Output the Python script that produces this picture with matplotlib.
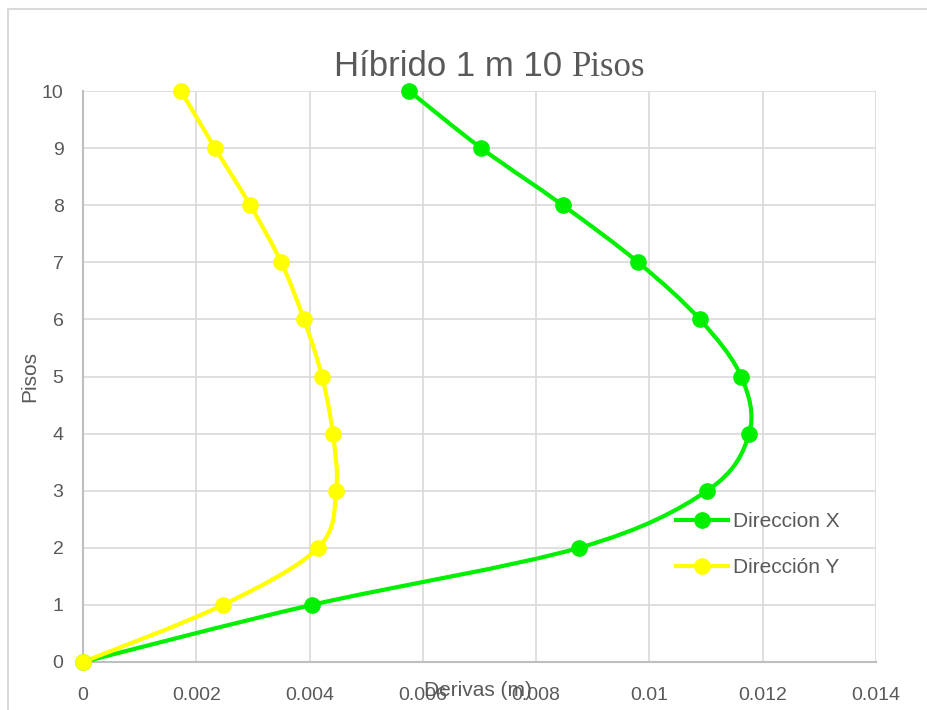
import matplotlib
matplotlib.use("Agg")
import matplotlib.pyplot as plt
from matplotlib.path import Path
from matplotlib.patches import PathPatch, Rectangle
from matplotlib.lines import Line2D
import numpy as np

# --- datos ---
pisos = [0, 1, 2, 3, 4, 5, 6, 7, 8, 9, 10]
deriva_x = [0, 0.00404, 0.00876, 0.01102, 0.01176, 0.01162, 0.01089, 0.00980, 0.00847, 0.00703, 0.00576]
deriva_y = [0, 0.00247, 0.00415, 0.00447, 0.00441, 0.00422, 0.00390, 0.00350, 0.00295, 0.00233, 0.00173]
x_ticks = [0, 0.002, 0.004, 0.006, 0.008, 0.01, 0.012, 0.014]
x_labels = ["0", "0.002", "0.004", "0.006", "0.008", "0.01", "0.012", "0.014"]
y_ticks = list(range(0, 11))

VERDE = "#00f000"
AMARILLO = "#ffff00"
GRIS_TXT = "#595959"
FONT = "Liberation Sans"


def curva_suave(ax, xs, ys, color):
    # curva tipo Excel (Catmull-Rom -> Bezier cubica)
    p = np.column_stack([xs, ys]).astype(float)
    ext = np.vstack([p[0], p, p[-1]])
    verts = [tuple(p[0])]
    codes = [Path.MOVETO]
    for i in range(len(p) - 1):
        p0, p1, p2, p3 = ext[i], ext[i + 1], ext[i + 2], ext[i + 3]
        c1 = p1 + (p2 - p0) / 6.0
        c2 = p2 - (p3 - p1) / 6.0
        verts += [tuple(c1), tuple(c2), tuple(p2)]
        codes += [Path.CURVE4] * 3
    ax.add_patch(PathPatch(Path(verts, codes), fill=False, edgecolor=color, lw=3.0,
                           capstyle="round", joinstyle="round", zorder=3, clip_on=False))


fig = plt.figure(figsize=(9.28, 7.10), dpi=100)
fig.patches.append(Rectangle((8 / 928, -0.1), 1.2, 1 - 9 / 710 + 0.1, transform=fig.transFigure,
                             fill=False, edgecolor="#d9d9d9", lw=1.5))
ax = fig.add_axes([83 / 928, 48 / 710, 793 / 928, 571 / 710])

curva_suave(ax, deriva_x, pisos, VERDE)
curva_suave(ax, deriva_y, pisos, AMARILLO)
ax.plot(deriva_x, pisos, ls="none", marker="o", ms=11, color=VERDE, zorder=4, clip_on=False)
ax.plot(deriva_y, pisos, ls="none", marker="o", ms=11, color=AMARILLO, zorder=4, clip_on=False)

ax.set_xlim(0, 0.014)
ax.set_ylim(0, 10)
ax.set_xticks(x_ticks)
ax.set_xticklabels(x_labels)
ax.set_yticks(y_ticks)
ax.grid(True, color="#d9d9d9", lw=1.2)
ax.set_axisbelow(True)
for s in ["top", "right"]:
    ax.spines[s].set_visible(False)
for s in ["left", "bottom"]:
    ax.spines[s].set_color("#bfbfbf")
    ax.spines[s].set_linewidth(1.5)
ax.tick_params(length=0, labelsize=14, labelcolor=GRIS_TXT)
for lab in ax.get_xticklabels() + ax.get_yticklabels():
    lab.set_family(FONT)
ax.tick_params(axis="y", pad=14)
ax.tick_params(axis="x", pad=18)

fig.text(478 / 928, 1 - 690 / 710, "Derivas (m)", ha="center", va="center", fontsize=15,
         color=GRIS_TXT, family=FONT)
fig.text(30 / 928, 1 - 377 / 710, "Pisos", ha="center", va="center", rotation=90, fontsize=15,
         color=GRIS_TXT, family=FONT)

handles = [Line2D([], [], color=VERDE, lw=3, marker="o", ms=11),
           Line2D([], [], color=AMARILLO, lw=3, marker="o", ms=11)]
ax.legend(handles, ["Direccion X", "Dirección Y"], loc="center left", bbox_to_anchor=(0.748, 0.205),
          frameon=False, prop={"family": FONT, "size": 15}, labelcolor=GRIS_TXT,
          handlelength=2.5, handletextpad=0.25, labelspacing=1.3, borderpad=0, borderaxespad=0)

# titulo con dos tipos de letra
r = fig.canvas.get_renderer()
t1 = fig.text(0, 1 - 67 / 710, "Híbrido 1 m 10 ", ha="left", va="center", fontsize=25,
              color=GRIS_TXT, family=FONT)
t2 = fig.text(0, 1 - 67 / 710, "Pisos", ha="left", va="center", fontsize=25,
              color=GRIS_TXT, family="Liberation Serif")
w1 = t1.get_window_extent(r).width
w2 = t2.get_window_extent(r).width
x0 = 490 - (w1 + w2) / 2
t1.set_x(x0 / 928)
t2.set_x((x0 + w1) / 928)

fig.savefig("out.png", dpi=100)
